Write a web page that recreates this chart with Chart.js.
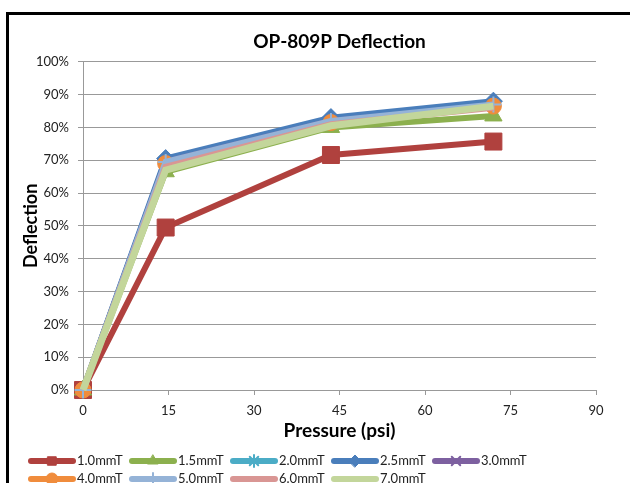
<!DOCTYPE html>
<html>
<head>
<meta charset="utf-8">
<script src="https://cdn.jsdelivr.net/npm/chart.js@4"></script>
<style>
  html, body { margin: 0; padding: 0; background: #fff; }
  #chart { display: block; }
</style>
</head>
<body>
<canvas id="chart" width="630" height="483"></canvas>
<script>
// values
const pressure = [0, 14.5, 43.5, 72];
const labels = ['1.0mmT', '1.5mmT', '2.0mmT', '2.5mmT', '3.0mmT', '4.0mmT', '5.0mmT', '6.0mmT', '7.0mmT'];
const d10 = [0, 0.495, 0.716, 0.757];
const d15 = [0, 0.665, 0.80, 0.835];
const d20 = [0, 0.70, 0.825, 0.875];
const d25 = [0, 0.705, 0.83, 0.88];
const d30 = [0, 0.695, 0.82, 0.865];
const d40 = [0, 0.69, 0.815, 0.865];
const d50 = [0, 0.695, 0.82, 0.87];
const d60 = [0, 0.68, 0.81, 0.86];
const d70 = [0, 0.67, 0.805, 0.865];
const yTicks = [0, 0.1, 0.2, 0.3, 0.4, 0.5, 0.6, 0.7, 0.8, 0.9, 1.0];
const xTicks = [0, 15, 30, 45, 60, 75, 90];

const seriesValues = [d10, d15, d20, d25, d30, d40, d50, d60, d70];
const colors = ['#B0413E', '#8CB04E', '#4BACC6', '#4A7EBB', '#7D60A0', '#F08C3C', '#95B3D7', '#D99694', '#C3D69B'];
const markers = ['rect', 'triangle', 'star', 'rectRot', 'crossRot', 'circle', 'cross', false, false];
const markerSize = [12, 10, 7, 9, 7, 8, 8, 0, 0];
const lineWidths = [6, 6, 6, 6, 6, 6, 6, 6, 7];

const FONT = 'Lato, "Open Sans", sans-serif';

const datasets = seriesValues.map((vals, i) => ({
  label: labels[i],
  data: vals.map((v, j) => ({ x: pressure[j], y: v })),
  borderColor: colors[i],
  backgroundColor: colors[i],
  borderWidth: lineWidths[i],
  pointStyle: markers[i],
  pointRadius: markerSize[i],
  pointBorderWidth: (markers[i] === 'star' || markers[i] === 'crossRot' || markers[i] === 'cross') ? 2 : 1,
  pointBorderColor: colors[i],
  tension: 0,
  clip: false,
  order: 9 - i
}));

// white background + black frame like the source sheet
const framePlugin = {
  id: 'frame',
  beforeDraw(chart) {
    const c = chart.ctx;
    c.save();
    c.fillStyle = '#fff';
    c.fillRect(0, 0, chart.width, chart.height);
    c.strokeStyle = '#000';
    c.lineWidth = 3;
    c.beginPath();
    c.moveTo(7.5, chart.height);
    c.lineTo(7.5, 13.5);
    c.lineTo(chart.width, 13.5);
    c.stroke();
    c.restore();
  }
};

// legend drawn as line + marker, two rows like the reference
const legendPlugin = {
  id: 'lineLegend',
  afterDraw(chart) {
    const c = chart.ctx;
    c.save();
    chart.data.datasets.forEach((ds, i) => {
      const col = i % 5, row = Math.floor(i / 5);
      const x0 = 31 + col * 101;
      const y = 461 + row * 18;
      c.strokeStyle = ds.borderColor;
      c.lineWidth = 6;
      c.lineCap = 'round';
      c.beginPath();
      c.moveTo(x0, y);
      c.lineTo(x0 + 42, y);
      c.stroke();
      if (ds.pointStyle) {
        c.fillStyle = ds.backgroundColor;
        c.strokeStyle = ds.borderColor;
        c.lineWidth = ds.pointBorderWidth;
        Chart.helpers.drawPoint(c, { pointStyle: ds.pointStyle, radius: 6, rotation: 0, borderWidth: ds.pointBorderWidth }, x0 + 21, y);
      }
      c.fillStyle = '#222';
      c.font = '13px ' + FONT;
      c.textBaseline = 'middle';
      c.textAlign = 'left';
      c.fillText(ds.label, x0 + 46, y);
    });
    c.restore();
  }
};

new Chart(document.getElementById('chart'), {
  type: 'line',
  data: { datasets },
  plugins: [framePlugin, legendPlugin],
  options: {
    responsive: false,
    animation: false,
    layout: { padding: { left: 16, right: 34, top: 24, bottom: 37 } },
    plugins: {
      legend: { display: false },
      tooltip: { enabled: false },
      title: {
        display: true,
        fullSize: false,
        text: 'OP-809P Deflection',
        color: '#000',
        font: { family: FONT, size: 19, weight: 'bold' },
        padding: { top: 6, bottom: 9 }
      }
    },
    scales: {
      x: {
        type: 'linear',
        min: 0,
        max: 90,
        afterBuildTicks(scale) { scale.ticks = xTicks.map(v => ({ value: v })); },
        afterFit(scale) { scale.height = 56; },
        grid: { drawOnChartArea: false, color: '#999', tickLength: 5 },
        border: { color: '#999' },
        ticks: { color: '#222', font: { family: FONT, size: 13 }, padding: 8 },
        title: {
          display: true,
          text: 'Pressure (psi)',
          color: '#000',
          font: { family: FONT, size: 19, weight: 'bold' }
        }
      },
      y: {
        min: 0,
        max: 1,
        afterBuildTicks(scale) { scale.ticks = yTicks.map(v => ({ value: v })); },
        afterFit(scale) { scale.width = 67; },
        grid: { color: '#999', tickLength: 5 },
        border: { color: '#999' },
        ticks: {
          color: '#222',
          font: { family: FONT, size: 13 },
          padding: 9,
          callback: v => Math.round(v * 100) + '%'
        },
        title: {
          display: true,
          text: 'Deflection',
          color: '#000',
          font: { family: FONT, size: 18, weight: 'bold' }
        }
      }
    }
  }
});
</script>
</body>
</html>
